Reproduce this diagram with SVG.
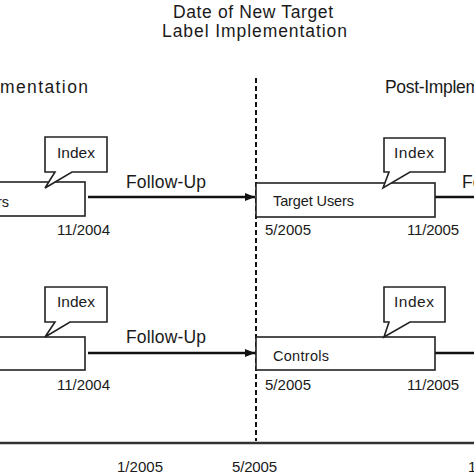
<svg xmlns="http://www.w3.org/2000/svg" width="474" height="474" viewBox="0 0 474 474">
<defs>
<style>
text{font-family:"Liberation Sans",Arial,sans-serif;fill:#1a1a1a}
.t{font-size:17.5px}
.f{font-size:17.5px}
.d{font-size:15px}
.i{font-size:15.5px}
.b{font-size:14.5px}
.box{fill:#fff;stroke:#222;stroke-width:1.6}
.call{fill:#fff;stroke:#222;stroke-width:1.6;stroke-linejoin:miter}
.conn{stroke:#111;stroke-width:2.4;fill:none}
</style>
<marker id="ah" viewBox="0 0 10 8" refX="10" refY="4" markerWidth="10" markerHeight="8" markerUnits="userSpaceOnUse" orient="auto">
<path d="M0 0L10 4L0 8Z" fill="#111"/>
</marker>
</defs>
<rect width="474" height="474" fill="#fff"/>

<g id="header">
<text class="t" x="253" y="18" text-anchor="middle" textLength="160">Date of New Target</text>
<text class="t" x="254.5" y="37" text-anchor="middle" textLength="185">Label Implementation</text>
<text class="t" x="0" y="93" textLength="88">mentation</text>
<text class="t" x="385" y="93" textLength="95">Post-Implem</text>
</g>

<g id="divider">
<line x1="256" y1="78" x2="256" y2="441" stroke="#111" stroke-width="2" stroke-dasharray="5,3"/>
</g>

<g id="connectors">
<line class="conn" x1="88" y1="197" x2="255" y2="197" marker-end="url(#ah)"/>
<line class="conn" x1="435" y1="197" x2="474" y2="197"/>
<line class="conn" x1="88" y1="353" x2="255" y2="353" marker-end="url(#ah)"/>
<line class="conn" x1="435" y1="353" x2="474" y2="353"/>
<text class="f" x="126" y="188" textLength="80">Follow-Up</text>
<text class="f" x="126" y="343" textLength="80">Follow-Up</text>
<text class="f" x="462" y="188">Fo</text>
</g>

<g id="pre-users">
<rect class="box" x="-10" y="182" width="95" height="34"/>
<text class="b" x="9" y="207" text-anchor="end">rs</text>
<text class="d" x="57" y="235" textLength="53">11/2004</text>
</g>
<g id="pre-users-index">
<path class="call" d="M45 137H107V172H72L45 188L55 172H45Z"/>
<text class="i" x="57" y="158" textLength="38">Index</text>
</g>

<g id="post-users">
<rect class="box" x="256" y="183" width="179" height="34"/>
<text class="b" x="273" y="206" textLength="81">Target Users</text>
<text class="d" x="265" y="235" textLength="46">5/2005</text>
<text class="d" x="407" y="235" textLength="52">11/2005</text>
</g>
<g id="post-users-index">
<path class="call" d="M384 138H445V172H410L383 188L389 172H384Z"/>
<text class="i" x="394" y="158" textLength="40">Index</text>
</g>

<g id="pre-controls">
<rect class="box" x="-10" y="337" width="95" height="33"/>
<text class="d" x="57" y="390" textLength="53">11/2004</text>
</g>
<g id="pre-controls-index">
<path class="call" d="M45 287H107V322H70L45 337L55 322H45Z"/>
<text class="i" x="57" y="307" textLength="38">Index</text>
</g>

<g id="post-controls">
<rect class="box" x="256" y="337" width="179" height="33"/>
<text class="b" x="273" y="361" textLength="56">Controls</text>
<text class="d" x="265" y="390" textLength="46">5/2005</text>
<text class="d" x="407" y="390" textLength="52">11/2005</text>
</g>
<g id="post-controls-index">
<path class="call" d="M384 287H445V322H410L384 337L389 322H384Z"/>
<text class="i" x="394" y="307" textLength="40">Index</text>
</g>

<g id="axis">
<line x1="0" y1="443" x2="474" y2="443" stroke="#333" stroke-width="2.5"/>
<text class="d" x="117" y="472" textLength="46">1/2005</text>
<text class="d" x="232" y="472" textLength="45">5/2005</text>
<text class="d" x="468" y="472">1</text>
</g>
</svg>
